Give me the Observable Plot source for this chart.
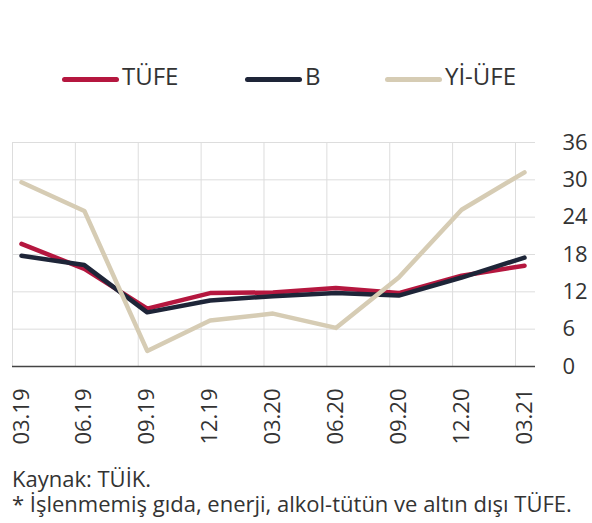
<!DOCTYPE html>
<html><head><meta charset="utf-8">
<script src="https://cdn.jsdelivr.net/npm/d3@7"></script>
<script src="https://cdn.jsdelivr.net/npm/@observablehq/plot@0.6"></script>
<style>
body{margin:0;background:#fff;font-family:"Open Sans",sans-serif;color:#333;width:592px;height:523px;position:relative;overflow:hidden}
.leg{position:absolute;top:59px;height:34px;font-size:24px;line-height:34px;display:flex;align-items:center;color:#333}
.leg i{display:inline-block;width:57px;height:5px;border-radius:3px;margin-right:3px;position:relative;top:3px}
#chart{position:absolute;left:0;top:120px}
.foot{position:absolute;left:12px;top:466px;font-size:22px;line-height:25px;white-space:nowrap;color:#333}
</style></head><body>
<div class="leg" style="left:62px"><i style="background:#b5173f"></i>TÜFE</div>
<div class="leg" style="left:245px"><i style="background:#1e2538"></i>B</div>
<div class="leg" style="left:385px"><i style="background:#d6ccb4"></i>Yİ-ÜFE</div>
<div id="chart"></div>
<div class="foot">Kaynak: TÜİK.<br>* İşlenmemiş gıda, enerji, alkol-tütün ve altın dışı TÜFE.</div>
<script>
const periods = ["03.19","06.19","09.19","12.19","03.20","06.20","09.20","12.20","03.21"];
const tufe   = [19.7, 15.7, 9.3, 11.8, 11.9, 12.6, 11.8, 14.6, 16.2];
const bCore  = [17.8, 16.3, 8.7, 10.6, 11.3, 11.8, 11.4, 14.3, 17.5];
const yiufe  = [29.6, 25.0, 2.5, 7.4, 8.5, 6.2, 14.3, 25.2, 31.2];
const yTicks = [0, 6, 12, 18, 24, 30, 36];
const seriesNames = ["TÜFE", "B", "Yİ-ÜFE"];
const colors = ["#b5173f", "#1e2538", "#d6ccb4"];

const idx = periods.map((_, i) => i);
const rows = [];
[tufe, bCore, yiufe].forEach((vals, s) => vals.forEach((v, i) => rows.push({series: seriesNames[s], i, v})));

const chart = Plot.plot({
  width: 592, height: 330,
  marginLeft: 12, marginRight: 57, marginTop: 22, marginBottom: 84,
  x: {domain: [-0.143, 8.175], axis: null},
  y: {domain: [0, 36], axis: null},
  color: {domain: seriesNames, range: colors},
  style: {fontFamily: "Open Sans", fontSize: "22px", color: "#333", background: "#fff"},
  marks: [
    Plot.ruleY(yTicks, {stroke: "#dddddd", strokeWidth: 1}),
    Plot.ruleX(idx, {x: d => d, dx: -9, stroke: "#dddddd", strokeWidth: 1}),
    Plot.ruleY([0], {stroke: "#444", strokeWidth: 1.5}),
    Plot.line(rows, {x: "i", y: "v", z: "series", stroke: "series", strokeWidth: 4.5, strokeLinejoin: "round", strokeLinecap: "round"}),
    Plot.text(periods, {x: (d, i) => i, y: () => 0, text: d => d, rotate: -90, textAnchor: "end", lineAnchor: "middle", dy: 22, fill: "#333", fontSize: 22}),
    Plot.axisY({anchor: "right", ticks: yTicks, tickSize: 0, tickPadding: 27, fontSize: 22, textAnchor: "start", label: null})
  ]
});
document.getElementById("chart").appendChild(chart);
</script>
</body></html>
